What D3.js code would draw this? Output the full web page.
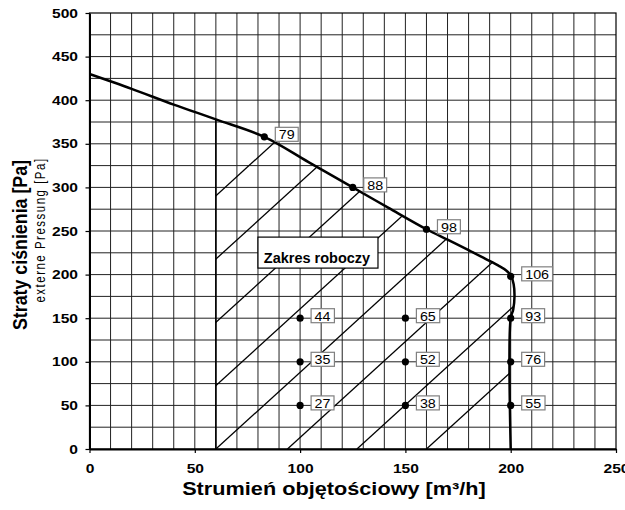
<!DOCTYPE html>
<html>
<head>
<meta charset="utf-8">
<script src="https://cdn.jsdelivr.net/npm/d3@7"></script>
<style>
  body { margin: 0; background: #fff; }
  svg { display: block; font-family: 'Liberation Sans', Arial, sans-serif; }
</style>
</head>
<body>
<svg id="chart" width="625" height="510"></svg>
<script>
// fan curve: flow [m3/h] vs external pressure [Pa]
const curveFlow  = [0, 20, 40, 60, 83, 104, 125, 142, 160, 170, 180, 188, 194, 198, 200, 201.4, 201.8, 201.2, 200, 200];
const curvePress = [430, 413, 395, 378, 358, 329, 300, 276.5, 252, 240, 228, 218, 210.5, 204.5, 199, 189, 175, 160, 150, 0];

// measured points and their labels
const pointFlow  = [83, 125, 160, 200, 100, 100, 100, 150, 150, 150, 200, 200, 200];
const pointPress = [358, 300, 252, 198, 150, 100, 50, 150, 100, 50, 150, 100, 50];
const pointLabel = ['79', '88', '98', '106', '44', '35', '27', '65', '52', '38', '93', '76', '55'];

// working range hatch: lines crossing the x axis at these flows
const hatchStart = [-72, -39, -6, 27, 60, 94, 127, 160];
const hatchSlope = 2.2;
const workFrom = 60;

const xTicks = [0, 50, 100, 150, 200, 250];
const yTicks = [0, 50, 100, 150, 200, 250, 300, 350, 400, 450, 500];

const margin = { top: 13, right: 9, bottom: 61, left: 89.5 },
    width = 625 - margin.left - margin.right,
    height = 510 - margin.top - margin.bottom;

const x = d3.scaleLinear().domain([0, 250]).range([0, width]),
    y = d3.scaleLinear().domain([0, 500]).range([height, 0]);

const svg = d3.select('#chart');
const g = svg.append('g').attr('transform', `translate(${margin.left},${margin.top})`);

const curvePts = curveFlow.map((f, i) => [f, curvePress[i]]);
const curveLine = d3.line()
    .x(d => x(d[0]))
    .y(d => y(d[1]))
    .curve(d3.curveCatmullRom.alpha(0.5));

// grid
g.append('g').selectAll('line')
    .data(d3.range(10, 250, 10))
    .join('line')
    .attr('x1', d => x(d)).attr('x2', d => x(d))
    .attr('y1', 0).attr('y2', height)
    .attr('stroke', '#222')
    .attr('stroke-width', 1);

g.append('g').selectAll('line')
    .data(d3.range(25, 500, 25))
    .join('line')
    .attr('x1', 0).attr('x2', width)
    .attr('y1', d => y(d)).attr('y2', d => y(d))
    .attr('stroke', '#222')
    .attr('stroke-width', 1);

g.append('rect')
    .attr('width', width)
    .attr('height', height)
    .attr('fill', 'none')
    .attr('stroke', '#000')
    .attr('stroke-width', 1.2);

// hatch of the working range
const defs = svg.append('defs');
defs.append('clipPath').attr('id', 'clip-work')
    .append('rect')
    .attr('x', x(workFrom)).attr('y', 0)
    .attr('width', width - x(workFrom)).attr('height', height);
defs.append('clipPath').attr('id', 'clip-curve')
    .append('path')
    .attr('d', curveLine(curvePts) + `L${x(0)},${y(0)}Z`);

g.append('g')
    .attr('clip-path', 'url(#clip-work)')
    .append('g')
    .attr('clip-path', 'url(#clip-curve)')
    .selectAll('line')
    .data(hatchStart)
    .join('line')
    .attr('x1', d => x(d)).attr('y1', y(0))
    .attr('x2', d => x(d + 500 / hatchSlope)).attr('y2', y(500))
    .attr('stroke', '#000')
    .attr('stroke-width', 1.3);

const workTop = curvePress[curveFlow.indexOf(workFrom)];
g.append('line')
    .attr('x1', x(workFrom)).attr('x2', x(workFrom))
    .attr('y1', y(0)).attr('y2', y(workTop))
    .attr('stroke', '#000')
    .attr('stroke-width', 1.6);

// axes
const xAxis = g.append('g')
    .attr('transform', `translate(0,${height})`)
    .call(d3.axisBottom(x).tickValues(xTicks).tickSizeInner(4).tickSizeOuter(0).tickPadding(10.5));

const yAxis = g.append('g')
    .call(d3.axisLeft(y).tickValues(yTicks).tickSizeInner(4).tickSizeOuter(0).tickPadding(5.6));

[xAxis, yAxis].forEach(a => {
    a.select('.domain').attr('stroke-width', 2);
    a.selectAll('.tick line').attr('stroke-width', 1.2);
    a.selectAll('text')
        .attr('fill', '#000')
        .attr('font-size', 13)
        .attr('font-weight', 'bold')
        .attr('font-family', "'Liberation Sans', Arial, sans-serif")
        .attr('transform', 'scale(1.2,1)');
});

// fan curve
g.append('path')
    .datum(curvePts)
    .attr('d', curveLine)
    .attr('fill', 'none')
    .attr('stroke', '#000')
    .attr('stroke-width', 2.5)
    .attr('stroke-linejoin', 'round');

// points with value boxes
const pts = g.append('g').selectAll('g')
    .data(pointLabel.map((l, i) => ({ f: pointFlow[i], p: pointPress[i], label: l })))
    .join('g')
    .attr('transform', d => `translate(${x(d.f)},${y(d.p)})`);

pts.append('circle')
    .attr('r', 3.6)
    .attr('fill', '#000');

pts.each(function(d) {
    const el = d3.select(this),
        sx = 1.1,
        tx = 14.5;

    const txt = el.append('text')
        .text(d.label)
        .attr('font-size', 13)
        .attr('fill', '#000')
        .attr('transform', `translate(${tx},2.4) scale(${sx},1)`);

    const w = txt.node().getBBox().width * sx;

    el.insert('rect', 'text')
        .attr('x', tx - 3.5)
        .attr('y', -9.5)
        .attr('width', w + 7)
        .attr('height', 14)
        .attr('fill', '#fff')
        .attr('stroke', '#808080')
        .attr('stroke-width', 1.2);
});

// working range label
const zone = g.append('g')
    .attr('transform', `translate(${x(80)},${y(243)})`);

zone.append('rect')
    .attr('width', 120)
    .attr('height', 31)
    .attr('fill', '#fff')
    .attr('stroke', '#000')
    .attr('stroke-width', 1.2);

zone.append('text')
    .text('Zakres roboczy')
    .attr('x', 59)
    .attr('y', 25.5)
    .attr('text-anchor', 'middle')
    .attr('font-size', 14.5)
    .attr('font-weight', 'bold');

// axis titles
svg.append('text')
    .text('Straty ciśnienia [Pa]')
    .attr('text-anchor', 'middle')
    .attr('font-size', 17.8)
    .attr('font-weight', 'bold')
    .attr('transform', 'translate(26.5,245) scale(1.18,1) rotate(-90)');

svg.append('text')
    .text('externe Pressung [Pa]')
    .attr('text-anchor', 'middle')
    .attr('font-size', 11.5)
    .attr('letter-spacing', 1.5)
    .attr('transform', 'translate(44.5,230) scale(1.2,1) rotate(-90)');

svg.append('text')
    .text('Strumień objętościowy [m³/h]')
    .attr('text-anchor', 'middle')
    .attr('font-size', 17.5)
    .attr('font-weight', 'bold')
    .attr('transform', 'translate(334,495) scale(1.24,1)');
</script>
</body>
</html>
